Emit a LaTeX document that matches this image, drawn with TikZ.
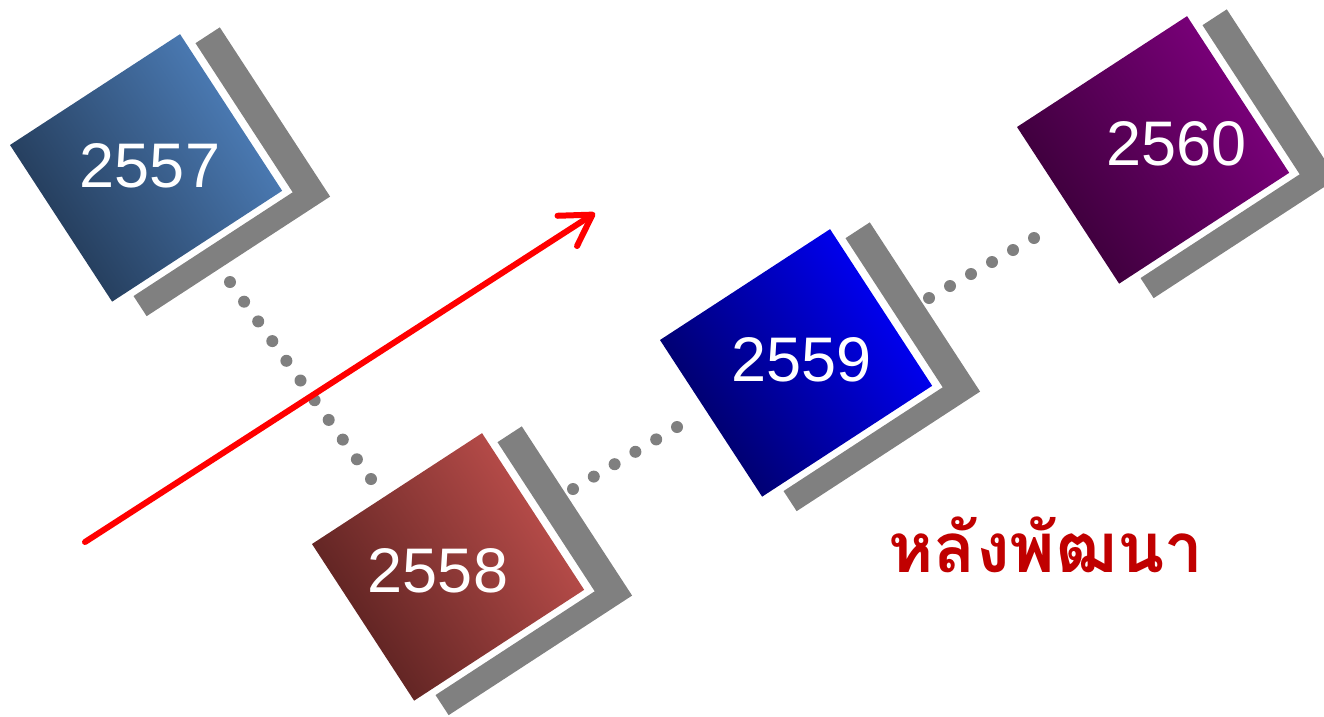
\documentclass[tikz,border=0pt]{standalone}
\usepackage{fontspec}
\setmainfont{Liberation Sans}
\newfontfamily\thaifont[Script=Thai]{Loma}
\usetikzlibrary{calc,arrows.meta}
\definecolor{shadowgray}{HTML}{808080}
\definecolor{dotgray}{HTML}{7F7F7F}
\definecolor{thaired}{HTML}{C00000}
\definecolor{bluedark}{HTML}{213753}
\definecolor{bluelight}{HTML}{4F81BD}
\definecolor{reddark}{HTML}{57201F}
\definecolor{redlight}{HTML}{C0504D}
\definecolor{navydark}{HTML}{000060}
\definecolor{navylight}{HTML}{0000FF}
\definecolor{purpledark}{HTML}{380036}
\definecolor{purplelight}{HTML}{800080}
\newcommand\yearbox[4]{%
  \begin{scope}[shift={#1},rotate=33.1]
    \fill[shadowgray] (211,16) -- (240,16) -- (240,218) -- (21,218) -- (21,194) -- (211,194) -- cycle;
    \shade[left color=#2,right color=#3,shading angle=123] (0,0) rectangle (203,187);
    \coordinate (#4) at (101.5,93.5);
  \end{scope}}
\begin{document}
\begin{tikzpicture}[x=1pt,y=-1pt,
  yearlabel/.style={text=white,font=\fontsize{63}{63}\selectfont,inner sep=0pt},
  thailabel/.style={text=thaired,font=\thaifont\bfseries\fontsize{69}{69}\selectfont,inner sep=0pt},
  dotfill/.style={fill=dotgray},
  bigarrow/.style={draw=red,line width=6pt,line cap=round,-{Straight Barb[length=30pt,width=36pt,round]}}]
\useasboundingbox (0,0) rectangle (1324,716);
\begin{scope}
  \clip (0,0) rectangle (1324,716);
  \node[text=thaired,font=\thaifont\bfseries\fontsize{34}{34}\selectfont,inner sep=0pt,anchor=base west] (before) at (12,-2) {ก่อนพัฒนา};
\end{scope}
% boxes
\yearbox{(10,145)}{bluedark}{bluelight}{b2557}
\yearbox{(312,544)}{reddark}{redlight}{b2558}
\yearbox{(660,340)}{navydark}{navylight}{b2559}
\yearbox{(1017,127)}{purpledark}{purplelight}{b2560}
\node[yearlabel] (t2557) at (150,166) {2557};
\node[yearlabel] (t2558) at (438,571) {2558};
\node[yearlabel] (t2559) at (801.5,360) {2559};
\node[yearlabel] (t2560) at (1176.5,143.5) {2560};
% dotted connectors
\coordinate (d1a) at (230,282); \coordinate (d1b) at (371,479);
\coordinate (d2a) at (573,489); \coordinate (d2b) at (677,427);
\coordinate (d3a) at (929,298); \coordinate (d3b) at (1034,238);
\foreach \i in {0,...,10} \fill[dotfill] ($(d1a)!{\i/10}!(d1b)$) circle (6pt);
\foreach \i in {0,...,5} \fill[dotfill] ($(d2a)!{\i/5}!(d2b)$) circle (6pt);
\foreach \i in {0,...,5} \fill[dotfill] ($(d3a)!{\i/5}!(d3b)$) circle (6pt);
% arrow
\coordinate (as) at (85,542);
\coordinate (ae) at (595,213);
\draw[bigarrow] (as) -- (ae);
% after label
\node[thailabel,anchor=base] (after) at (1046,572) {หลังพัฒนา};
\end{tikzpicture}
\end{document}
